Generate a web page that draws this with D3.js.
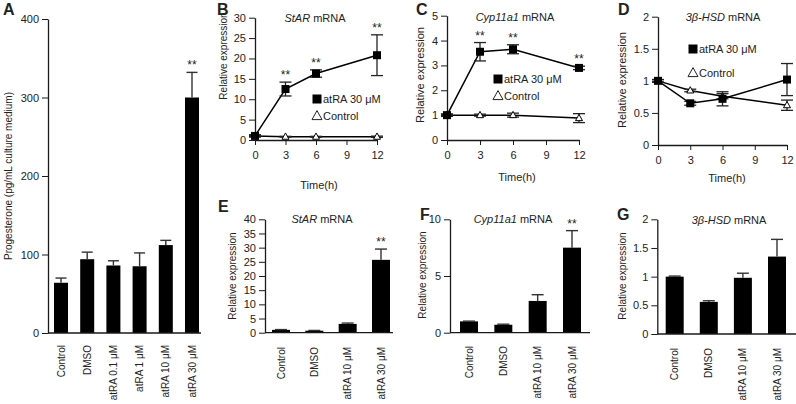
<!DOCTYPE html>
<html><head><meta charset="utf-8">
<script src="https://cdn.jsdelivr.net/npm/d3@7"></script>
<style>
body{margin:0;background:#fff}
svg{display:block}
text{font-family:"Liberation Sans",Arial,Helvetica,sans-serif;fill:#222}
</style>
</head><body>
<svg id="c" width="796" height="404"></svg>
<script>
// ---------- data ----------
const catsA = ["Control", "DMSO", "atRA 0.1 μM", "atRA 1 μM", "atRA 10 μM", "atRA 30 μM"];
const valsA = [64, 94, 86, 85, 112, 300];
const errsA = [6, 9, 6, 17, 6, 32];
const sigA  = ["", "", "", "", "", "**"];
const ticksA = [0, 100, 200, 300, 400];

const timeH = [0, 3, 6, 12];
const timeTicks = [0, 3, 6, 9, 12];

const starB_atra = [1, 12.5, 16.3, 20.8];
const starB_atraErr = [0.3, 1.7, 0.9, 5.0];
const starB_ctrl = [1, 0.8, 0.8, 0.8];
const starB_ctrlErr = [0.1, 0.1, 0.1, 0.15];
const sigB = ["", "**", "**", "**"];
const ticksB = [0, 5, 10, 15, 20, 25, 30];

const cypC_atra = [1, 3.55, 3.65, 2.9];
const cypC_atraErr = [0.05, 0.37, 0.18, 0.07];
const cypC_ctrl = [1, 1.0, 1.0, 0.88];
const cypC_ctrlErr = [0.03, 0.04, 0.08, 0.18];
const sigC = ["", "**", "**", "**"];
const ticksC = [0, 1, 2, 3, 4, 5];

const hsdD_atra = [1, 0.65, 0.72, 1.02];
const hsdD_atraErr = [0.02, 0.03, 0.11, 0.25];
const hsdD_ctrl = [1, 0.85, 0.76, 0.62];
const hsdD_ctrlErr = [0.02, 0.02, 0.04, 0.08];
const sigD = ["", "", "", ""];
const ticksD = [0, 0.5, 1, 1.5, 2];

const catsEFG = ["Control", "DMSO", "atRA 10 μM", "atRA 30 μM"];
const valsE = [1.0, 0.7, 3.1, 25.7];
const errsE = [0.1, 0.1, 0.3, 3.8];
const sigE = ["", "", "", "**"];
const ticksE = [0, 5, 10, 15, 20, 25, 30, 35, 40];

const valsF = [1.0, 0.7, 2.8, 7.5];
const errsF = [0.02, 0.05, 0.55, 1.5];
const sigF = ["", "", "", "**"];
const ticksF = [0, 5, 10];

const valsG = [1.0, 0.56, 0.98, 1.35];
const errsG = [0.01, 0.02, 0.08, 0.3];
const sigG = ["", "", "", ""];
const ticksG = [0, 0.5, 1, 1.5, 2];

const legendLabels = ["atRA 30 μM", "Control"];

// ---------- drawing ----------
const svg = d3.select("#c");
const INK = "#1a1a1a";
const fmt = d3.format("");

function styleAxis(sel, fs) {
  sel.select(".domain").attr("stroke", INK).attr("stroke-width", 1.3);
  sel.selectAll(".tick line").attr("stroke", INK).attr("stroke-width", 1);
  sel.selectAll(".tick text").attr("font-size", fs).attr("fill", "#222")
    .style("font-family", '"Liberation Sans",Arial,sans-serif');
}

function panelLetter(t, x, y) {
  svg.append("text").attr("x", x).attr("y", y).attr("font-size", 16)
    .attr("font-weight", "bold").text(t);
}

function yLabel(t, x, y, fs) {
  svg.append("text").attr("transform", `translate(${x},${y}) rotate(-90)`)
    .attr("text-anchor", "middle").attr("font-size", fs).attr("dy", "0.35em").text(t);
}

function title(parts, x, y) {
  const t = svg.append("text").attr("x", x).attr("y", y).attr("text-anchor", "middle").attr("font-size", 11);
  t.append("tspan").attr("font-style", "italic").text(parts[0]);
  t.append("tspan").text(parts[1]);
}

function barPanel(o) {
  const y = d3.scaleLinear().domain([0, o.ticks[o.ticks.length - 1]]).range([o.yBottom, o.yTop]);
  const x = d3.scalePoint().domain(o.cats).range([o.c0, o.c1]);
  const g = svg.append("g");
  g.append("g").attr("transform", `translate(${o.axisX},0)`)
    .call(d3.axisLeft(y).tickValues(o.ticks).tickSize(6).tickSizeOuter(0).tickPadding(3).tickFormat(fmt))
    .call(s => styleAxis(s, 11));
  // bars
  g.selectAll("rect.bar").data(o.vals).join("rect")
    .attr("x", (d, i) => x(o.cats[i]) - o.barW / 2)
    .attr("y", d => y(d))
    .attr("width", o.barW)
    .attr("height", d => y(0) - y(d))
    .attr("fill", "#000");
  // error bars (upper)
  o.vals.forEach((d, i) => {
    const cx = x(o.cats[i]);
    const top = y(d + o.errs[i]);
    g.append("line").attr("x1", cx).attr("x2", cx).attr("y1", y(d)).attr("y2", top)
      .attr("stroke", "#333").attr("stroke-width", 1.4);
    g.append("line").attr("x1", cx - o.cap / 2).attr("x2", cx + o.cap / 2).attr("y1", top).attr("y2", top)
      .attr("stroke", "#333").attr("stroke-width", 1.4);
    if (o.sig[i]) g.append("text").attr("x", cx).attr("y", top - 3).attr("text-anchor", "middle")
      .attr("font-size", 12).text(o.sig[i]);
  });
  // x axis line
  g.append("line").attr("x1", o.axisX).attr("x2", o.xEnd).attr("y1", y(0)).attr("y2", y(0))
    .attr("stroke", INK).attr("stroke-width", 1.3);
  // category labels
  g.selectAll("text.cat").data(o.cats).join("text").attr("class", "cat")
    .attr("transform", d => `translate(${x(d)},${o.labelY}) rotate(-90)`)
    .attr("text-anchor", "end").attr("dy", "0.35em").attr("font-size", o.catFs).text(d => d);
}

function tri(cx, cy, s) {
  const h = s * 0.9;
  return `M${cx},${cy - h * 0.6}L${cx + s / 2},${cy + h * 0.4}L${cx - s / 2},${cy + h * 0.4}Z`;
}

function linePanel(o) {
  const x = d3.scaleLinear().domain([0, 12]).range([o.x0, o.x12]);
  const y = d3.scaleLinear().domain([0, o.ticks[o.ticks.length - 1]]).range([o.yBottom, o.yTop]);
  const g = svg.append("g");
  g.append("g").attr("transform", `translate(${o.x0},0)`)
    .call(d3.axisLeft(y).tickValues(o.ticks).tickSize(6).tickSizeOuter(0).tickPadding(3).tickFormat(fmt))
    .call(s => styleAxis(s, 11));
  g.append("g").attr("transform", `translate(0,${y(0)})`)
    .call(d3.axisBottom(x).tickValues(timeTicks).tickSize(5).tickSizeOuter(0).tickPadding(6).tickFormat(fmt))
    .call(s => styleAxis(s, 11));
  const line = d3.line().x((d, i) => x(timeH[i])).y(d => y(d));
  function errs(vals, e) {
    vals.forEach((d, i) => {
      const cx = x(timeH[i]);
      const t = y(d + e[i]), b = y(d - e[i]);
      g.append("line").attr("x1", cx).attr("x2", cx).attr("y1", t).attr("y2", b).attr("stroke", "#222").attr("stroke-width", 1.3);
      [t, b].forEach(yy => g.append("line").attr("x1", cx - o.cap / 2).attr("x2", cx + o.cap / 2)
        .attr("y1", yy).attr("y2", yy).attr("stroke", "#222").attr("stroke-width", 1.3));
    });
  }
  // control
  g.append("path").attr("d", line(o.ctrl)).attr("fill", "none").attr("stroke", "#000").attr("stroke-width", 1.5);
  errs(o.ctrl, o.ctrlErr);
  o.ctrl.forEach((d, i) => g.append("path").attr("d", tri(x(timeH[i]), y(d), 7))
    .attr("fill", "#fff").attr("stroke", "#000").attr("stroke-width", 1));
  // atRA
  g.append("path").attr("d", line(o.atra)).attr("fill", "none").attr("stroke", "#000").attr("stroke-width", 1.5);
  errs(o.atra, o.atraErr);
  o.atra.forEach((d, i) => g.append("rect").attr("x", x(timeH[i]) - 4).attr("y", y(d) - 4)
    .attr("width", 8).attr("height", 8).attr("fill", "#000"));
  o.atra.forEach((d, i) => {
    if (o.sig[i]) g.append("text").attr("x", x(timeH[i])).attr("y", y(d + o.atraErr[i]) - 3)
      .attr("text-anchor", "middle").attr("font-size", 12).text(o.sig[i]);
  });
  // time label
  g.append("text").attr("x", o.timeX).attr("y", o.timeY).attr("text-anchor", "middle").attr("font-size", 11).text("Time(h)");
  // legend
  g.append("rect").attr("x", o.lx - 4.5).attr("y", o.ly1 - 4.5).attr("width", 9).attr("height", 9).attr("fill", "#000");
  g.append("text").attr("x", o.lx + 6).attr("y", o.ly1).attr("dy", "0.35em").attr("font-size", 11).text(legendLabels[0]);
  g.append("path").attr("d", tri(o.lx, o.ly2, 10)).attr("fill", "none").attr("stroke", "#222").attr("stroke-width", 1);
  g.append("text").attr("x", o.lx + 6).attr("y", o.ly2).attr("dy", "0.35em").attr("font-size", 11).text(legendLabels[1]);
}

// Panel A
barPanel({cats: catsA, vals: valsA, errs: errsA, sig: sigA, ticks: ticksA,
  yBottom: 333, yTop: 19, axisX: 48, c0: 61, c1: 192, barW: 14, cap: 11, xEnd: 201, labelY: 345, catFs: 10});
panelLetter("A", 3, 15);
yLabel("Progesterone (pg/mL culture medium)", 8, 176, 10);

// Panel B
linePanel({atra: starB_atra, atraErr: starB_atraErr, ctrl: starB_ctrl, ctrlErr: starB_ctrlErr, sig: sigB, ticks: ticksB,
  x0: 255, x12: 377, yBottom: 140, yTop: 17.7, cap: 12, timeX: 319, timeY: 189, lx: 317, ly1: 99, ly2: 116});
panelLetter("B", 217, 15);
yLabel("Relative expression", 223, 56, 10);
title(["StAR", " mRNA"], 315, 22);

// Panel C
linePanel({atra: cypC_atra, atraErr: cypC_atraErr, ctrl: cypC_ctrl, ctrlErr: cypC_ctrlErr, sig: sigC, ticks: ticksC,
  x0: 447, x12: 579, yBottom: 140, yTop: 15.7, cap: 12, timeX: 517, timeY: 181, lx: 498, ly1: 79, ly2: 96});
panelLetter("C", 416, 15);
yLabel("Relative expression", 420, 75, 11);
title(["Cyp11a1", " mRNA"], 515, 21);

// Panel D
linePanel({atra: hsdD_atra, atraErr: hsdD_atraErr, ctrl: hsdD_ctrl, ctrlErr: hsdD_ctrlErr, sig: sigD, ticks: ticksD,
  x0: 658, x12: 787, yBottom: 145, yTop: 16.7, cap: 12, timeX: 727, timeY: 182, lx: 693, ly1: 49, ly2: 73});
panelLetter("D", 618, 15);
yLabel("Relative expression", 622, 80, 11);
title(["3β-HSD", " mRNA"], 723, 21);

// Panel E
barPanel({cats: catsEFG, vals: valsE, errs: errsE, sig: sigE, ticks: ticksE,
  yBottom: 332.7, yTop: 219.3, axisX: 265, c0: 281, c1: 381, barW: 18, cap: 12, xEnd: 393, labelY: 347, catFs: 10});
panelLetter("E", 218, 212);
yLabel("Relative expression", 232, 276, 10);
title(["StAR", " mRNA"], 322, 223);

// Panel F
barPanel({cats: catsEFG, vals: valsF, errs: errsF, sig: sigF, ticks: ticksF,
  yBottom: 332.7, yTop: 219.3, axisX: 450, c0: 469, c1: 572, barW: 18, cap: 12, xEnd: 590, labelY: 346, catFs: 10});
panelLetter("F", 420, 220);
yLabel("Relative expression", 422, 275, 10);
title(["Cyp11a1", " mRNA"], 513, 223);

// Panel G
barPanel({cats: catsEFG, vals: valsG, errs: errsG, sig: sigG, ticks: ticksG,
  yBottom: 334, yTop: 219.3, axisX: 657.3, c0: 674.7, c1: 777, barW: 18, cap: 12, xEnd: 796, labelY: 348, catFs: 10});
panelLetter("G", 617, 220);
yLabel("Relative expression", 622, 276, 10);
title(["3β-HSD", " mRNA"], 729, 224);
</script>
</body></html>
